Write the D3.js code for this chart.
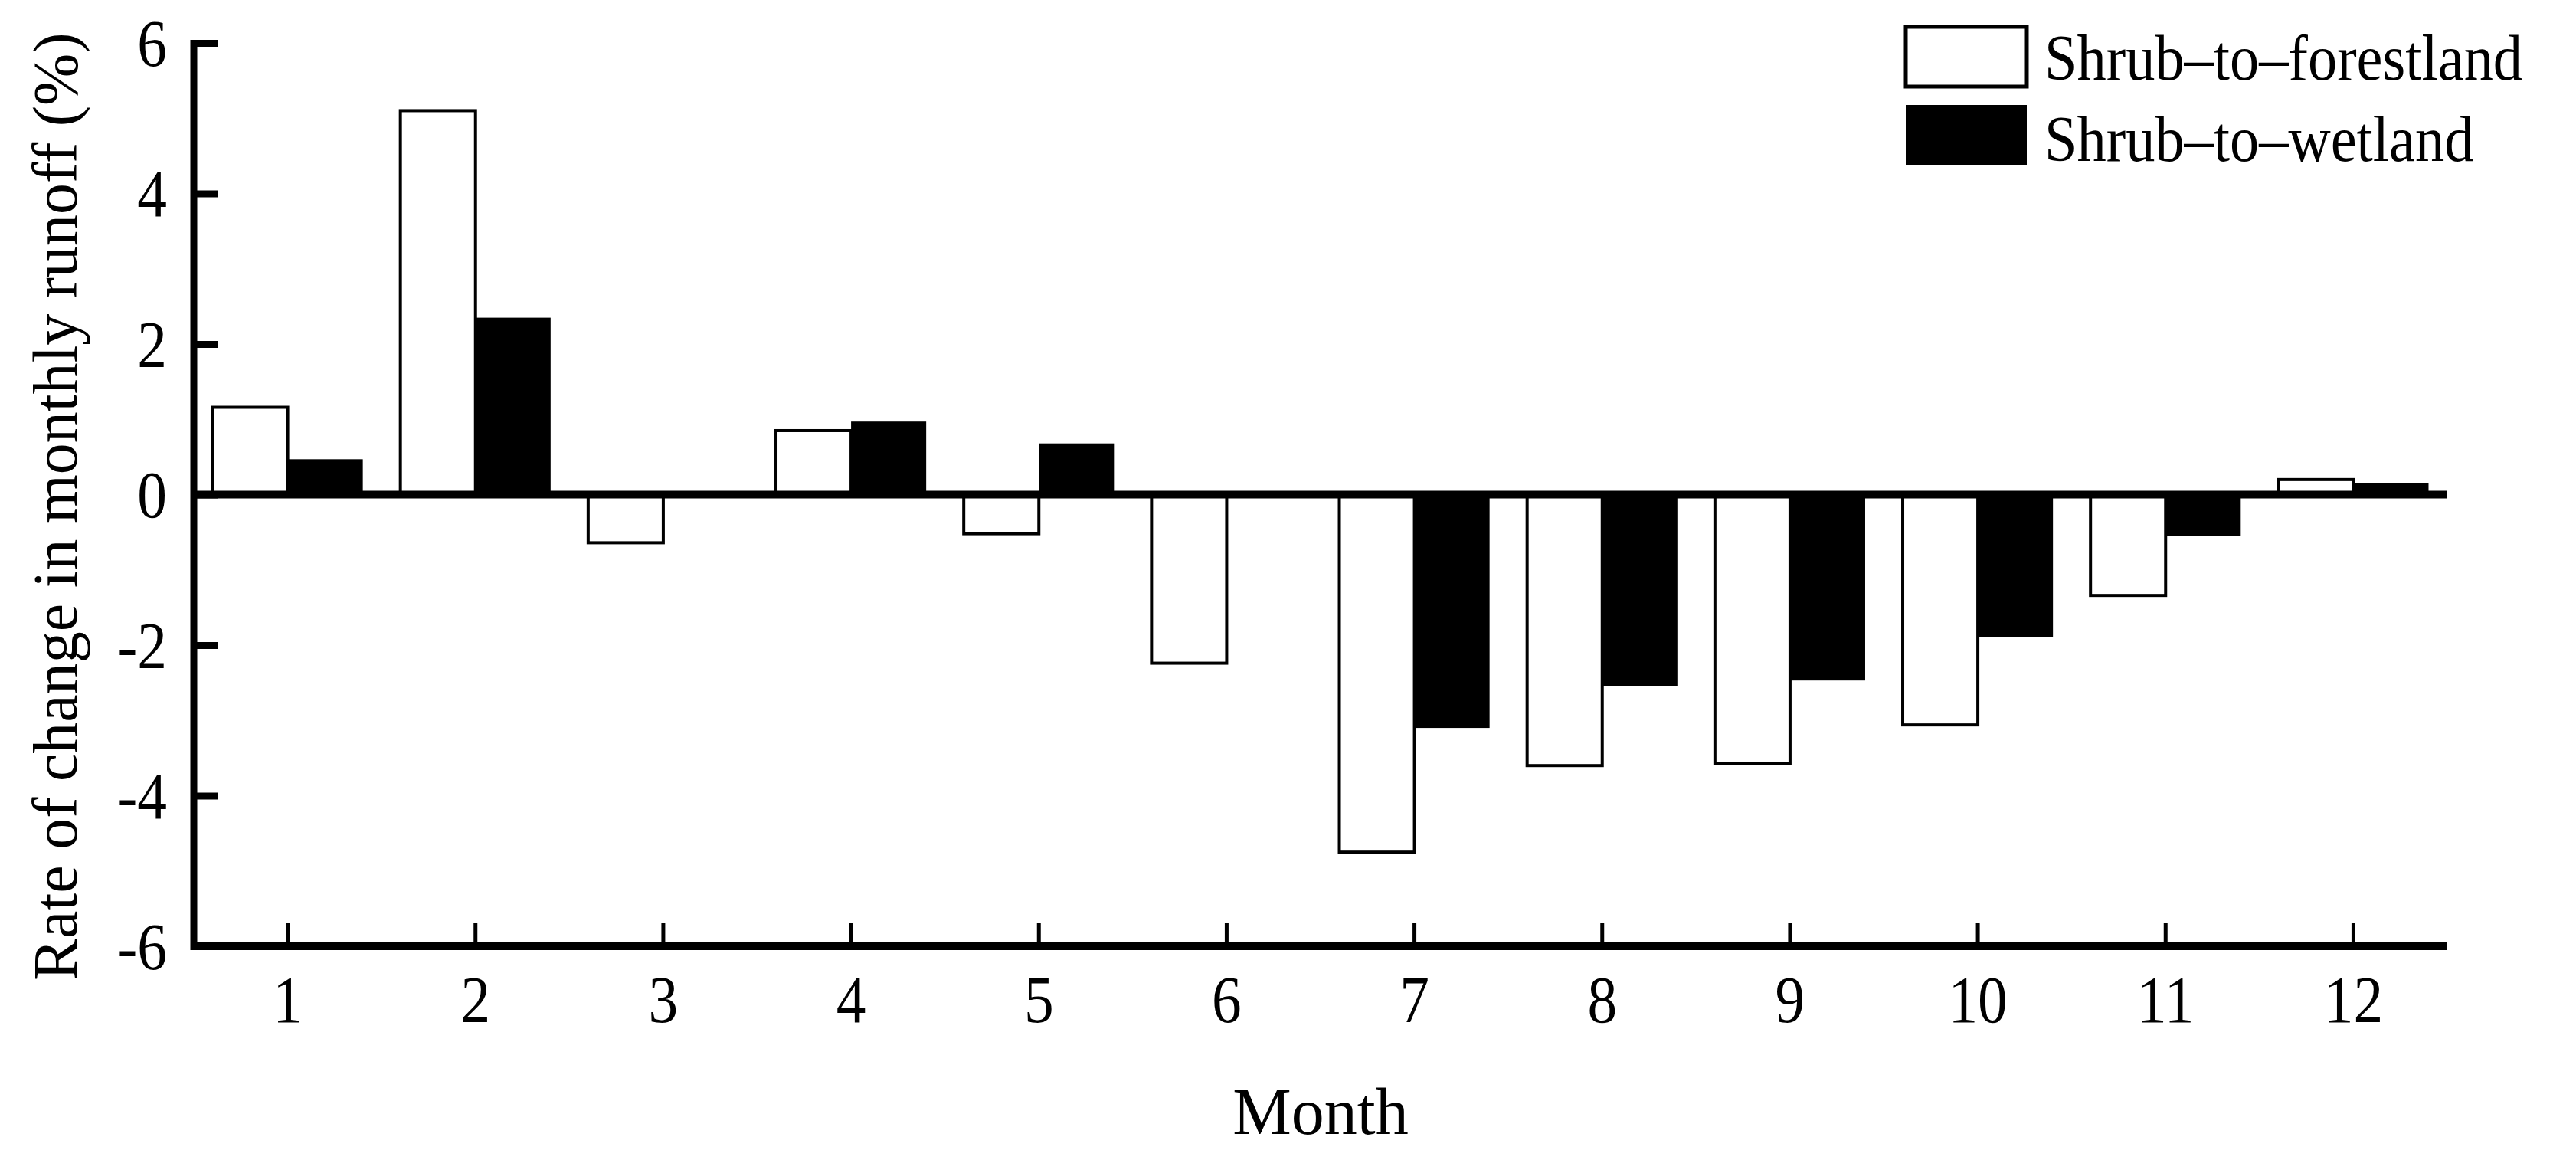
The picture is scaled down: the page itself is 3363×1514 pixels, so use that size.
<!DOCTYPE html>
<html>
<head>
<meta charset="utf-8">
<script src="https://cdn.jsdelivr.net/npm/d3@7/dist/d3.min.js"></script>
<style>
  html, body { margin: 0; padding: 0; background: #fff; }
  svg text { font-family: "Liberation Serif", "Times New Roman", serif; fill: #000; }
</style>
</head>
<body>
<svg id="chart" width="3363" height="1514"></svg>
<script>
// ---- data ----
const months = ["1","2","3","4","5","6","7","8","9","10","11","12"];
const seriesNames = ["Shrub\u2013to\u2013forestland", "Shrub\u2013to\u2013wetland"];
const forestland = [1.16, 5.1, -0.64, 0.85, -0.52, -2.24, -4.75, -3.6, -3.57, -3.06, -1.34, 0.2];
const wetland    = [0.47, 2.35, 0, 0.97, 0.68, 0, -3.1, -2.54, -2.47, -1.89, -0.55, 0.15];
const yTicks = [-6, -4, -2, 0, 2, 4, 6];
const xTitle = "Month";
const yTitle = "Rate of change in monthly runoff (%)";

// ---- layout ----
const svg = d3.select("#chart");
const plotL = 253, plotR = 3195, plotT = 56, plotB = 1235;

const x = d3.scaleBand().domain(months).range([plotL, plotR]).paddingInner(0.2).paddingOuter(0.1);
const xs = d3.scaleBand().domain(seriesNames).range([0, x.bandwidth()]);
const y = d3.scaleLinear().domain([-6, 6]).range([plotB, plotT]);

const fills = ["#fff", "#000"];
const strokes = ["#000", "none"];
const seriesVals = [forestland, wetland];

// bars
seriesNames.forEach((name, si) => {
  svg.append("g").selectAll("rect")
    .data(months.map((m, i) => ({ m, v: seriesVals[si][i] })).filter(d => d.v !== 0))
    .join("rect")
    .attr("x", d => x(d.m) + xs(name))
    .attr("width", xs.bandwidth())
    .attr("y", d => y(Math.max(0, d.v)))
    .attr("height", d => Math.abs(y(d.v) - y(0)))
    .attr("fill", fills[si])
    .attr("stroke", strokes[si])
    .attr("stroke-width", 4);
});

// zero line
svg.append("line")
  .attr("x1", plotL - 4).attr("x2", plotR)
  .attr("y1", y(0)).attr("y2", y(0))
  .attr("stroke", "#000").attr("stroke-width", 10);

// x axis
const xAxis = d3.axisBottom(x).tickSize(0).tickPadding(0);
const gx = svg.append("g").attr("transform", `translate(0,${plotB})`).call(xAxis);
gx.select(".domain").remove();
gx.selectAll(".tick text").remove();
svg.append("line")
  .attr("x1", plotL - 4).attr("x2", plotR)
  .attr("y1", plotB).attr("y2", plotB)
  .attr("stroke", "#000").attr("stroke-width", 10);
gx.selectAll(".tick").append("line")
  .attr("y1", -5).attr("y2", -30)
  .attr("stroke", "#000").attr("stroke-width", 5);
gx.selectAll(".tick").append("text")
  .attr("transform", "translate(0,99) scale(0.9,1)")
  .attr("text-anchor", "middle")
  .attr("font-size", 86)
  .text(d => d);

// y axis
const yAxis = d3.axisLeft(y).tickValues(yTicks).tickSize(0).tickFormat(d => String(d));
const gy = svg.append("g").attr("transform", `translate(${plotL},0)`).call(yAxis);
gy.select(".domain").remove();
gy.selectAll(".tick text").remove();
svg.append("line")
  .attr("x1", plotL).attr("x2", plotL)
  .attr("y1", plotT - 4).attr("y2", plotB + 5)
  .attr("stroke", "#000").attr("stroke-width", 9);
gy.selectAll(".tick").append("line")
  .attr("x1", 0).attr("x2", 32)
  .attr("stroke", "#000").attr("stroke-width", 9);
gy.selectAll(".tick").append("text")
  .attr("transform", "translate(-35,0) scale(0.9,1)")
  .attr("dy", "0.34em")
  .attr("text-anchor", "end")
  .attr("font-size", 86)
  .text(d => String(d));

// axis titles
svg.append("text")
  .attr("x", (plotL + plotR) / 2).attr("y", 1480)
  .attr("text-anchor", "middle")
  .attr("font-size", 86)
  .text(xTitle);
svg.append("text")
  .attr("transform", `translate(100,661) rotate(-90)`)
  .attr("text-anchor", "middle")
  .attr("font-size", 82)
  .text(yTitle);

// legend
const lg = svg.append("g");
const legendY = [35, 137];
const legendBase = [104, 210];
seriesNames.forEach((name, i) => {
  lg.append("rect")
    .attr("x", 2488).attr("y", legendY[i])
    .attr("width", 158).attr("height", 78)
    .attr("fill", fills[i])
    .attr("stroke", "#000").attr("stroke-width", i === 0 ? 5 : 0);
  lg.append("text")
    .attr("transform", `translate(2669,${legendBase[i]}) scale(0.91,1)`)
    .attr("font-size", 84)
    .text(name);
});
</script>
</body>
</html>
